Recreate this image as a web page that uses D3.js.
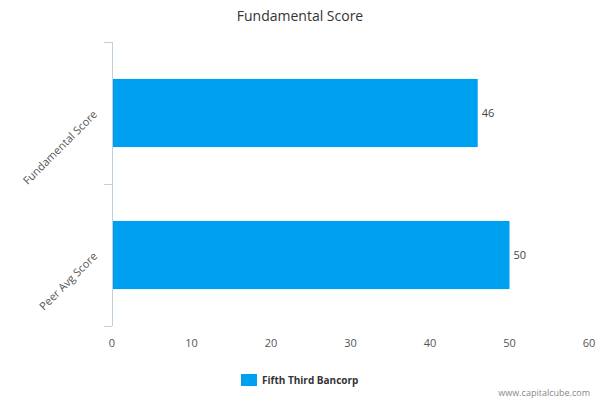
<!DOCTYPE html>
<html><head><meta charset="utf-8">
<script src="https://cdn.jsdelivr.net/npm/d3@7"></script>
<style>body{margin:0;background:#fff;font-family:"Open Sans","DejaVu Sans",sans-serif}</style>
</head><body><svg id="c" width="600" height="400"></svg>
<script>
var categories = ["Fundamental Score", "Peer Avg Score"]
var values = [46, 50]
var xTicks = [0, 10, 20, 30, 40, 50, 60]
var seriesName = "Fifth Third Bancorp"

var svg = d3.select("#c")
var x = d3.scaleLinear().domain([0, 60]).range([112, 589])
var y = d3.scaleBand().domain(categories).range([42, 326]).paddingInner(0.52).paddingOuter(0.26)

svg.append("text").attr("x", 300).attr("y", 21).attr("text-anchor", "middle")
    .attr("font-size", 14).attr("fill", "#333").text("Fundamental Score")

// y axis line and category separator ticks
svg.append("line").attr("x1", 112.5).attr("x2", 112.5).attr("y1", 42).attr("y2", 326).attr("stroke", "#c0d0e0")
var bounds = [42, 184, 326]
svg.selectAll(".yt").data(bounds).enter().append("line")
    .attr("x1", 104).attr("x2", 112).attr("y1", d => d + 0.5).attr("y2", d => d + 0.5).attr("stroke", "#c0d0e0")

svg.selectAll(".bar").data(values).enter().append("rect")
    .attr("x", x(0) + 1).attr("y", (d, i) => y(categories[i]))
    .attr("width", d => x(d) - x(0) - 1).attr("height", y.bandwidth()).attr("fill", "#00a0f0")

svg.selectAll(".val").data(values).enter().append("text")
    .attr("x", d => x(d) + 4).attr("y", (d, i) => y(categories[i]) + y.bandwidth() / 2 + 4)
    .attr("font-size", 11).attr("fill", "#444").text(d => d)

svg.selectAll(".cat").data(categories).enter().append("text")
    .attr("transform", d => "translate(98," + (y(d) + y.bandwidth() / 2 + 2) + ") rotate(-45)")
    .attr("text-anchor", "end").attr("font-size", 11).attr("fill", "#555").text(d => d)

svg.selectAll(".xt").data(xTicks).enter().append("text")
    .attr("x", d => x(d)).attr("y", 347).attr("text-anchor", "middle")
    .attr("font-size", 11).attr("fill", "#555").text(d => d)

svg.append("rect").attr("x", 241).attr("y", 374).attr("width", 16).attr("height", 12).attr("fill", "#00a0f0")
svg.append("text").attr("x", 262).attr("y", 384).attr("font-size", 10).attr("font-weight", "bold")
    .attr("fill", "#333").text(seriesName)

svg.append("text").attr("x", 590).attr("y", 396).attr("text-anchor", "end")
    .attr("font-size", 9).attr("fill", "#888").text("www.capitalcube.com")
</script></body></html>
